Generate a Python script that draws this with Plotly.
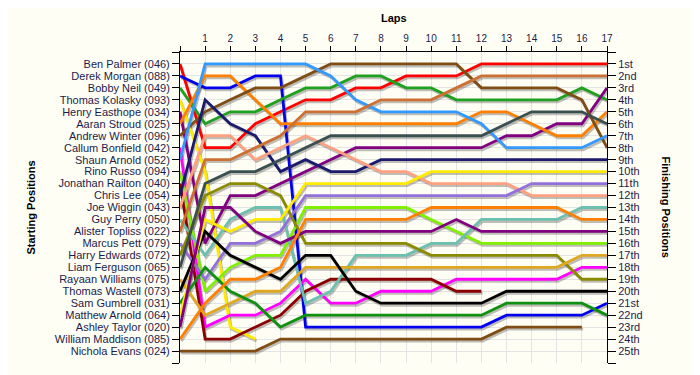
import plotly.graph_objects as go

laps = list(range(18))

starting_order = [
    "Ben Palmer (046)", "Derek Morgan (088)", "Bobby Neil (049)", "Thomas Kolasky (093)",
    "Henry Easthope (034)", "Aaran Stroud (025)", "Andrew Winter (096)", "Callum Bonfield (042)",
    "Shaun Arnold (052)", "Rino Russo (094)", "Jonathan Railton (040)", "Chris Lee (054)",
    "Joe Wiggin (043)", "Guy Perry (050)", "Alister Topliss (022)", "Marcus Pett (079)",
    "Harry Edwards (072)", "Liam Ferguson (065)", "Rayaan Williams (075)", "Thomas Wastell (073)",
    "Sam Gumbrell (031)", "Matthew Arnold (064)", "Ashley Taylor (020)", "William Maddison (085)",
    "Nichola Evans (024)",
]

finishing_labels = [
    "1st", "2nd", "3rd", "4th", "5th", "6th", "7th", "8th", "9th", "10th",
    "11th", "12th", "13th", "14th", "15th", "16th", "17th", "18th", "19th", "20th",
    "21st", "22nd", "23rd", "24th", "25th",
]

# position of each driver at laps 0..17 (None = retired)
ben_palmer       = [1, 8, 8, 6, 5, 4, 4, 3, 3, 2, 2, 2, 1, 1, 1, 1, 1, 1]
derek_morgan     = [2, 3, 3, 2, 2, 23, 23, 23, 23, 23, 23, 23, 23, 22, 22, 22, 22, 21]
bobby_neil       = [3, 6, 5, 5, 4, 3, 3, 2, 2, 3, 3, 4, 4, 4, 4, 4, 3, 4]
thomas_kolasky   = [4, 10, 23, 24, None, None, None, None, None, None, None, None, None, None, None, None, None, None]
henry_easthope   = [5, 16, 12, 12, 11, 10, 9, 8, 8, 8, 8, 8, 8, 7, 7, 6, 6, 3]
aaran_stroud     = [6, 2, 2, 4, 6, 6, 6, 6, 6, 6, 6, 6, 5, 5, 6, 7, 7, 5]
andrew_winter    = [7, 5, 4, 3, 3, 2, 1, 1, 1, 1, 1, 1, 3, 3, 3, 3, 4, 8]
callum_bonfield  = [8, 23, 22, 22, 21, 19, 21, 21, 20, 20, 20, 19, 19, 19, 19, 19, 18, 18]
shaun_arnold     = [9, 1, 1, 1, 1, 1, 2, 4, 5, 5, 5, 5, 6, 8, 8, 8, 8, 7]
rino_russo       = [10, 20, 18, 17, 17, 13, 13, 13, 13, 13, 14, 15, 16, 16, 16, 16, 16, 16]
jonathan_railton = [11, 24, 24, 23, 22, 20, 19, 19, 19, 19, 19, 20, 20, None, None, None, None, None]
chris_lee        = [12, 4, 6, 7, 10, 9, 10, 10, 9, 9, 9, 9, 9, 9, 9, 9, 9, 9]
joe_wiggin       = [13, 7, 7, 9, 8, 7, 8, 9, 10, 10, 11, 11, 11, 11, 12, 12, 12, 12]
guy_perry        = [14, 17, 14, 13, 13, 21, 20, 17, 17, 17, 16, 16, 14, 14, 14, 14, 13, 13]
alister_topliss  = [15, 9, 9, 8, 7, 5, 5, 5, 4, 4, 4, 3, 2, 2, 2, 2, 2, 2]
marcus_pett      = [16, 19, 16, 16, 15, 12, 12, 12, 12, 12, 12, 12, 12, 12, 11, 11, 11, 11]
harry_edwards    = [17, 12, 11, 11, 12, 16, 16, 16, 16, 16, 17, 17, 17, 17, 17, 17, 19, 19]
liam_ferguson    = [18, 11, 10, 10, 9, 8, 7, 7, 7, 7, 7, 7, 7, 6, 5, 5, 5, 6]
rayaan_williams  = [19, 22, 21, 20, 20, 18, 18, 18, 18, 18, 18, 18, 18, 18, 18, 18, 17, 17]
thomas_wastell   = [20, 15, 17, 18, 19, 17, 17, 20, 21, 21, 21, 21, 21, 20, 20, 20, 20, 20]
sam_gumbrell     = [21, 18, 20, 21, 23, 22, 22, 22, 22, 22, 22, 22, 22, 21, 21, 21, 21, 22]
matthew_arnold   = [22, 14, 15, 14, 14, 11, 11, 11, 11, 11, 10, 10, 10, 10, 10, 10, 10, 10]
ashley_taylor    = [23, 13, 13, 15, 16, 15, 15, 15, 15, 15, 15, 14, 15, 15, 15, 15, 15, 15]
william_maddison = [24, 21, 19, 19, 18, 14, 14, 14, 14, 14, 13, 13, 13, 13, 13, 13, 14, 14]
nichola_evans    = [25, 25, 25, 25, 24, 24, 24, 24, 24, 24, 24, 24, 24, 23, 23, 23, 23, None]

driver_positions = [
    ben_palmer, derek_morgan, bobby_neil, thomas_kolasky, henry_easthope, aaran_stroud,
    andrew_winter, callum_bonfield, shaun_arnold, rino_russo, jonathan_railton, chris_lee,
    joe_wiggin, guy_perry, alister_topliss, marcus_pett, harry_edwards, liam_ferguson,
    rayaan_williams, thomas_wastell, sam_gumbrell, matthew_arnold, ashley_taylor,
    william_maddison, nichola_evans,
]

# styling (one colour per driver, same order as starting_order)
line_colors = [
    "#ff0000", "#0000ee", "#1fa01f", "#ffea00", "#800080", "#ff8000", "#7f4c14", "#ff00ff",
    "#3399ff", "#80f000", "#8b0000", "#1a1a6e", "#ffa080", "#6cc0ae", "#cc7033", "#9370db",
    "#8b8b00", "#3a5050", "#e0a820", "#000000", "#109010", "#ffea00", "#800080", "#ff8000",
    "#7f4c14",
]

label_color = "#1c1c4c"
bg = "#fefef5"
grid = "#e4e4e4"

fig = go.Figure()

# drop shadows (slightly offset copies)
for name, pos in zip(starting_order, driver_positions):
    fig.add_trace(go.Scatter(
        x=[lap + 0.05 for lap in laps],
        y=[(p + 0.17) if p is not None else None for p in pos],
        mode="lines", yaxis="y",
        line=dict(color="rgba(0,0,0,0.25)", width=2.8),
        hoverinfo="skip", showlegend=False,
    ))

for name, pos, col in zip(starting_order, driver_positions, line_colors):
    fig.add_trace(go.Scatter(
        x=laps, y=pos, mode="lines", yaxis="y2", name=name,
        line=dict(color=col, width=2.8),
        hoverinfo="skip", showlegend=False,
    ))

tick_pos = list(range(0, 27))

# the page body adds an 8px offset, so the figure is 8px smaller and margins compensate
fig.update_layout(
    width=692, height=367,
    paper_bgcolor=bg, plot_bgcolor=bg,
    margin=dict(l=172, r=93, t=44, b=12, autoexpand=False),
    font=dict(family="Liberation Sans, Arial, sans-serif", size=11, color=label_color),
    xaxis=dict(
        side="top", range=[0, 17], tickmode="array", tickvals=laps,
        ticktext=[""] + [str(l) for l in laps[1:]],
        ticks="outside", ticklen=5, tickcolor="black", automargin=False,
        showline=True, linecolor="black", linewidth=1,
        showgrid=True, gridcolor=grid, gridwidth=1, zeroline=False,
        tickfont=dict(size=10, color=label_color),
    ),
    yaxis=dict(
        range=[26, 0], tickmode="array", tickvals=tick_pos,
        ticktext=[""] + starting_order + [""],
        ticks="outside", ticklen=7, tickcolor="black", automargin=False,
        showline=True, linecolor="black", linewidth=1,
        showgrid=True, gridcolor=grid, gridwidth=1, zeroline=False,
        tickfont=dict(size=11, color=label_color),
    ),
    yaxis2=dict(
        overlaying="y", side="right", anchor="x",
        range=[26, 0], tickmode="array", tickvals=tick_pos,
        ticktext=[""] + finishing_labels + [""],
        ticks="outside", ticklen=8, tickcolor="black", automargin=False,
        showline=True, linecolor="black", linewidth=1,
        showgrid=False, zeroline=False,
        tickfont=dict(size=11, color=label_color),
    ),
    annotations=[
        dict(text="<b>Laps</b>", xref="paper", yref="paper", x=0.5, y=1.109,
             xanchor="center", yanchor="middle", showarrow=False,
             font=dict(size=11, color="black")),
        dict(text="<b>Starting Positions</b>", xref="paper", yref="paper", x=-0.351, y=0.5,
             xanchor="center", yanchor="middle", textangle=-90, showarrow=False,
             font=dict(size=11, color="black")),
        dict(text="<b>Finishing Positions</b>", xref="paper", yref="paper", x=1.1405, y=0.5,
             xanchor="center", yanchor="middle", textangle=90, showarrow=False,
             font=dict(size=11, color="black")),
    ],
)

fig.write_html("out.html")
